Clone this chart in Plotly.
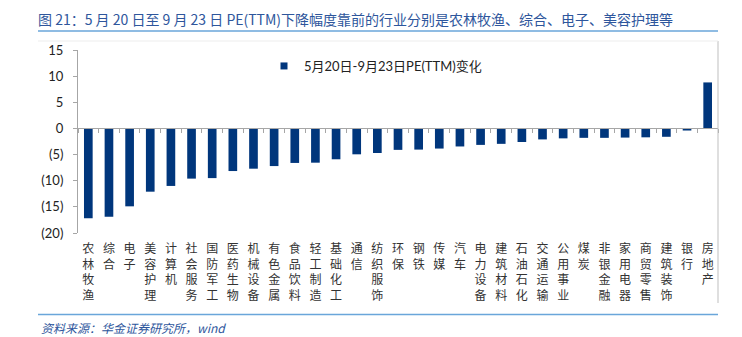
import plotly.graph_objects as go

categories = ["农林牧渔", "综合", "电子", "美容护理", "计算机", "社会服务", "国防军工", "医药生物",
              "机械设备", "有色金属", "食品饮料", "轻工制造", "基础化工", "通信", "纺织服饰", "环保",
              "钢铁", "传媒", "汽车", "电力设备", "建筑材料", "石油石化", "交通运输", "公用事业",
              "煤炭", "非银金融", "家用电器", "商贸零售", "建筑装饰", "银行", "房地产"]
values = [-17.2, -16.9, -14.9, -12.1, -11.0, -9.6, -9.5, -8.15, -7.7, -7.2, -6.6, -6.55, -5.9,
          -4.95, -4.7, -4.1, -4.05, -3.85, -3.45, -3.15, -2.95, -2.6, -2.1, -1.9, -1.8, -1.8,
          -1.75, -1.7, -1.6, -0.4, 8.8]
y_ticks = [15, 10, 5, 0, -5, -10, -15, -20]
y_ticktext = ["15", "10", "5", "0", "(5)", "(10)", "(15)", "(20)"]
series_name = "5月20日-9月23日PE(TTM)变化"
title_text = "图 21：5 月 20 日至 9 月 23 日 PE(TTM)下降幅度靠前的行业分别是农林牧渔、综合、电子、美容护理等"
source_text = "资料来源：华金证券研究所，wind"

BAR = "#00367C"
AX = "#A6A6A6"
BLUE_T = "#2E569C"
LINE_B = "#6AA6DA"

W, H = 742, 337
ML, MR, MT, MB = 78, 24, 50, 104
PW, PH = W - ML - MR, H - MT - MB

def px_x(px):
    return (px - ML) / PW

def px_y(py):
    return (H - MB - py) / PH

vert_labels = ["<br>".join(list(c)) for c in categories]

fig = go.Figure()
fig.add_trace(go.Bar(x=categories, y=values, marker=dict(color=BAR, line=dict(width=0)),
                     width=0.42, showlegend=False, hoverinfo="x+y"))
# zero-line axis helper (carries tick marks at category boundaries)
fig.add_trace(go.Scatter(x=categories, y=values, xaxis="x2", mode="markers",
                         marker=dict(opacity=0), showlegend=False, hoverinfo="skip"))
# legend entry
fig.add_trace(go.Scatter(x=[None], y=[None], mode="markers", name=series_name,
                         marker=dict(symbol="square", size=7, color=BAR), showlegend=True))

zero_pos = (0 - (-20)) / 35.0

fig.update_layout(
    width=W, height=H,
    margin=dict(l=ML, r=MR, t=MT, b=MB, pad=0),
    paper_bgcolor="white", plot_bgcolor="white",
    font=dict(family="Lato, Noto Sans CJK SC", size=13, color="#222222"),
    title=dict(text=title_text, x=38 / W, xanchor="left", xref="container",
               y=1 - 20.5 / H, yanchor="middle", yref="container",
               font=dict(family="Noto Sans CJK SC, Lato", size=14, color=BLUE_T)),
    xaxis=dict(type="category", categoryorder="array", categoryarray=categories,
               range=[-0.5, len(categories) - 0.5], showline=False, ticks="",
               showgrid=False, zeroline=False,
               tickmode="array", tickvals=categories, ticktext=vert_labels,
               tickangle=0, ticklabelstandoff=7,
               tickfont=dict(family="Noto Sans CJK SC", size=12, color="#333333")),
    xaxis2=dict(type="category", overlaying="x", anchor="free", position=zero_pos,
                categoryorder="array", categoryarray=categories,
                range=[-0.5, len(categories) - 0.5], showline=True, linecolor=AX, linewidth=1,
                ticks="outside", ticklen=4, tickcolor=AX, tickson="boundaries",
                showticklabels=False, showgrid=False, zeroline=False, side="bottom"),
    yaxis=dict(range=[-20, 15], tickmode="array", tickvals=y_ticks, ticktext=y_ticktext,
               showline=True, linecolor=AX, linewidth=1, ticks="outside", ticklen=4,
               tickcolor=AX, showgrid=False, zeroline=False, ticklabelstandoff=7,
               tickfont=dict(family="Lato", size=13, color="#222222")),
    legend=dict(x=px_x(264), y=px_y(66), xanchor="left", yanchor="middle",
                bgcolor="rgba(0,0,0,0)", font=dict(family="Lato, Noto Sans CJK SC", size=13,
                                                  color="#222222")),
    bargap=0.5,
)

shapes = [
    dict(type="line", xref="paper", yref="paper", x0=px_x(38), x1=px_x(718),
         y0=px_y(31), y1=px_y(31), line=dict(color=LINE_B, width=1.5)),
    dict(type="line", xref="paper", yref="paper", x0=px_x(38), x1=px_x(718),
         y0=px_y(314.5), y1=px_y(314.5), line=dict(color=LINE_B, width=1.5)),
    dict(type="line", xref="paper", yref="paper", x0=px_x(718), x1=px_x(718),
         y0=px_y(303), y1=px_y(41), line=dict(color="#BFBFBF", width=1)),
    dict(type="line", xref="paper", yref="paper", x0=px_x(38), x1=px_x(718),
         y0=px_y(41), y1=px_y(41), line=dict(color="#EDEDED", width=1)),
]
fig.update_layout(shapes=shapes)

fig.add_annotation(text="<i>" + source_text + "</i>", xref="paper", yref="paper",
                   x=px_x(39), y=px_y(327.5), xanchor="left", yanchor="middle", showarrow=False,
                   font=dict(family="Noto Sans CJK SC, Lato", size=12, color=BLUE_T))

fig.write_html("out.html")
